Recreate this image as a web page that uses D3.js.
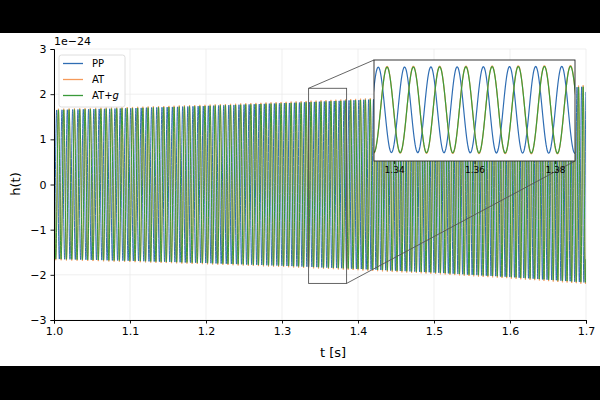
<!DOCTYPE html>
<html>
<head>
<style>
  body { margin: 0; background: #000; }
  svg { display: block; font-family: "DejaVu Sans", sans-serif; }
</style>
</head>
<body>
<svg width="600" height="400"></svg>
<script src="https://cdn.jsdelivr.net/npm/d3@7"></script>
<script>
    // values (units of 1e-24, seconds, Hz)
    var envT = [1.0, 1.1, 1.2, 1.3, 1.4, 1.5, 1.6, 1.7];
    var envAmp = [1.65, 1.69, 1.74, 1.80, 1.87, 1.95, 2.05, 2.17];
    var freqT = [1.0, 1.35, 1.7];
    var freqHz = [142, 153, 166];
    var peakPP = 1.3361;          // a blue crest seen in the inset
    var lagAT = 2.1;              // phase lag of AT behind PP (rad)
    var lagATg = 2.1;
    var ampScale = {PP: 1.0, AT: 1.015, ATg: 1.0};
    var series = ["PP", "AT", "AT+g"];
    var colors = ["#2f6db3", "#f59a5a", "#3a9a3a"];
    var xTicks = [1.0, 1.1, 1.2, 1.3, 1.4, 1.5, 1.6, 1.7];
    var yTicks = [-3, -2, -1, 0, 1, 2, 3];
    var insetRange = [1.335, 1.385];
    var insetY = [-2.19, 2.13];
    var insetTicks = [1.34, 1.36, 1.38];
    var fs = 8192;

    var svg = d3.select("svg");
    svg.append("rect").attr("x", 0).attr("y", 33).attr("width", 600).attr("height", 333).attr("fill", "#fff");

    var m = {left: 54, right: 586, top: 49, bottom: 320};
    var x = d3.scaleLinear().domain([1.0, 1.7]).range([m.left, m.right]);
    var y = d3.scaleLinear().domain([-3, 3]).range([m.bottom, m.top]);

    var envelope = d3.scaleLinear().domain(envT).range(envAmp);
    var freq = d3.scaleLinear().domain(freqT).range(freqHz);

    // build the waveform from the read envelope and frequency
    var n = Math.round(0.7 * fs) + 1;
    var phase = [0], ts = [1.0];
    for (var i = 1; i < n; i++) {
        var t = 1.0 + i / fs;
        ts.push(t);
        phase.push(phase[i - 1] + 2 * Math.PI * freq(t - 0.5 / fs) / fs);
    }
    var p0 = phase[Math.round((peakPP - 1.0) * fs)];
    var data = {PP: [], AT: [], "AT+g": []};
    for (var i = 0; i < n; i++) {
        var a = envelope(ts[i]), ph = phase[i] - p0;
        data.PP.push([ts[i], ampScale.PP * a * Math.cos(ph)]);
        data.AT.push([ts[i], ampScale.AT * a * Math.cos(ph - lagAT)]);
        data["AT+g"].push([ts[i], ampScale.ATg * a * Math.cos(ph - lagATg)]);
    }

    // grid
    var grid = svg.append("g").attr("stroke", "#ebebeb").attr("stroke-width", 0.8);
    xTicks.forEach(function(d) {
        grid.append("line").attr("x1", x(d)).attr("x2", x(d)).attr("y1", m.top).attr("y2", m.bottom);
    });
    yTicks.forEach(function(d) {
        grid.append("line").attr("x1", m.left).attr("x2", m.right).attr("y1", y(d)).attr("y2", y(d));
    });

    svg.append("clipPath").attr("id", "clipMain").append("rect")
        .attr("x", m.left).attr("y", m.top).attr("width", m.right - m.left).attr("height", m.bottom - m.top);

    var line = d3.line().x(function(d) { return x(d[0]); }).y(function(d) { return y(d[1]); });
    var main = svg.append("g").attr("clip-path", "url(#clipMain)");
    series.forEach(function(s, k) {
        main.append("path").attr("d", line(data[s])).attr("fill", "none")
            .attr("stroke", colors[k]).attr("stroke-width", 1);
    });

    // axes
    var xAxis = svg.append("g").attr("transform", "translate(0," + m.bottom + ")")
        .call(d3.axisBottom(x).tickValues(xTicks).tickFormat(d3.format(".1f")).tickSizeOuter(0).tickSize(3.5).tickPadding(4));
    var yAxis = svg.append("g").attr("transform", "translate(" + m.left + ",0)")
        .call(d3.axisLeft(y).tickValues(yTicks).tickFormat(function(d) { return d < 0 ? "\u2212" + (-d) : d; }).tickSizeOuter(0).tickSize(3.5).tickPadding(4));
    [xAxis, yAxis].forEach(function(g) {
        g.selectAll("text").attr("font-size", 11).attr("fill", "#000").attr("font-family", "DejaVu Sans");
        g.selectAll("line").attr("stroke", "#000").attr("stroke-width", 0.9);
        g.select(".domain").attr("stroke", "#000").attr("stroke-width", 1);
    });

    svg.append("text").attr("x", 54).attr("y", 45).attr("font-size", 11).text("1e\u221224");
    svg.append("text").attr("x", 333).attr("y", 357).attr("text-anchor", "middle").attr("font-size", 13).text("t [s]");
    svg.append("text").attr("transform", "translate(20,184) rotate(-90)").attr("text-anchor", "middle")
        .attr("font-size", 13).text("h(t)");

    // legend
    var leg = svg.append("g").attr("transform", "translate(59,55)");
    leg.append("rect").attr("width", 66).attr("height", 52).attr("rx", 2.5).attr("fill", "#fff")
        .attr("fill-opacity", 0.85).attr("stroke", "#d6d6d6").attr("stroke-width", 0.8);
    series.forEach(function(s, k) {
        var gy = 8.5 + k * 16;
        leg.append("line").attr("x1", 4).attr("x2", 24).attr("y1", gy).attr("y2", gy)
            .attr("stroke", colors[k]).attr("stroke-width", 1.3);
        var tx = leg.append("text").attr("x", 33).attr("y", gy + 3.8).attr("font-size", 10);
        if (s === "AT+g") {
            tx.text("AT+");
            tx.append("tspan").attr("font-style", "italic").text("g");
        } else {
            tx.text(s);
        }
    });

    // inset and its marker
    var ins = {left: 374, right: 575, top: 60, bottom: 161};
    var xi = d3.scaleLinear().domain(insetRange).range([ins.left, ins.right]);
    var yi = d3.scaleLinear().domain(insetY).range([ins.bottom, ins.top]);

    var mark = svg.append("g").attr("fill", "none").attr("stroke", "#555").attr("stroke-width", 0.9);
    mark.append("rect").attr("x", x(insetRange[0])).attr("y", y(insetY[1]))
        .attr("width", x(insetRange[1]) - x(insetRange[0])).attr("height", y(insetY[0]) - y(insetY[1]));
    mark.append("line").attr("x1", x(insetRange[0])).attr("y1", y(insetY[1])).attr("x2", ins.left).attr("y2", ins.top);
    mark.append("line").attr("x1", x(insetRange[1])).attr("y1", y(insetY[0])).attr("x2", ins.right).attr("y2", ins.bottom);

    svg.append("rect").attr("x", ins.left).attr("y", ins.top).attr("width", ins.right - ins.left)
        .attr("height", ins.bottom - ins.top).attr("fill", "#fff");
    svg.append("clipPath").attr("id", "clipInset").append("rect")
        .attr("x", ins.left).attr("y", ins.top).attr("width", ins.right - ins.left).attr("height", ins.bottom - ins.top);
    var lineI = d3.line().x(function(d) { return xi(d[0]); }).y(function(d) { return yi(d[1]); });
    var inset = svg.append("g").attr("clip-path", "url(#clipInset)");
    series.forEach(function(s, k) {
        var sub = data[s].filter(function(d) { return d[0] >= insetRange[0] - 0.002 && d[0] <= insetRange[1] + 0.002; });
        inset.append("path").attr("d", lineI(sub)).attr("fill", "none")
            .attr("stroke", colors[k]).attr("stroke-width", 1.2);
    });
    svg.append("rect").attr("x", ins.left).attr("y", ins.top).attr("width", ins.right - ins.left)
        .attr("height", ins.bottom - ins.top).attr("fill", "none").attr("stroke", "#222").attr("stroke-width", 0.9);
    var xiAxis = svg.append("g").attr("transform", "translate(0," + ins.bottom + ")")
        .call(d3.axisBottom(xi).tickValues(insetTicks).tickFormat(d3.format(".2f")).tickSize(3).tickPadding(3));
    xiAxis.select(".domain").remove();
    xiAxis.selectAll("text").attr("font-size", 9).attr("fill", "#000").attr("font-family", "DejaVu Sans");
    xiAxis.selectAll("line").attr("stroke", "#000").attr("stroke-width", 0.8);
</script>
</body>
</html>
